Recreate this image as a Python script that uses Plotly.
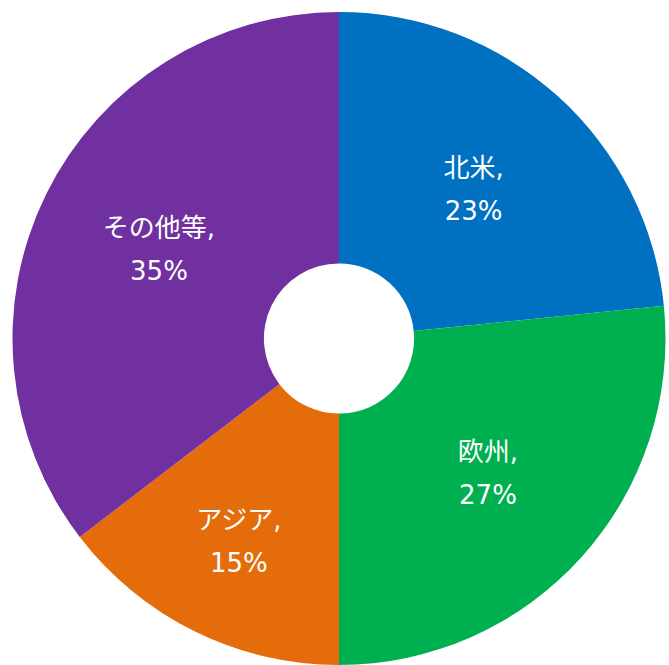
import plotly.graph_objects as go

labels = ["北米", "欧州", "アジア", "その他等"]
values = [23.4, 26.6, 14.6, 35.4]
colors = ["#0070C0", "#00B050", "#E46C0A", "#7030A0"]

span = "<span style='font-size:26px'>"
texttemplate = span + "%{label},</span><br>" + span + "%{percent:.0%}</span>"

fig = go.Figure(go.Pie(
    labels=labels,
    values=values,
    sort=False,
    direction="clockwise",
    rotation=0,
    hole=0.23,
    marker=dict(colors=colors, line=dict(width=0)),
    texttemplate=texttemplate,
    textposition="inside",
    insidetextorientation="horizontal",
    insidetextfont=dict(family="DejaVu Sans, Noto Sans CJK JP", size=33, color="white"),
    hoverinfo="label+percent",
    domain=dict(x=[11 / 669, 667 / 669], y=[0, 653 / 665]),
    showlegend=False,
))

fig.update_layout(
    width=669,
    height=665,
    margin=dict(l=0, r=0, t=0, b=0),
    paper_bgcolor="white",
    plot_bgcolor="white",
)

fig.write_html(
    "out.html",
    config={"displayModeBar": False},
    post_script="document.body.style.margin='0';document.body.style.overflow='hidden';",
)
